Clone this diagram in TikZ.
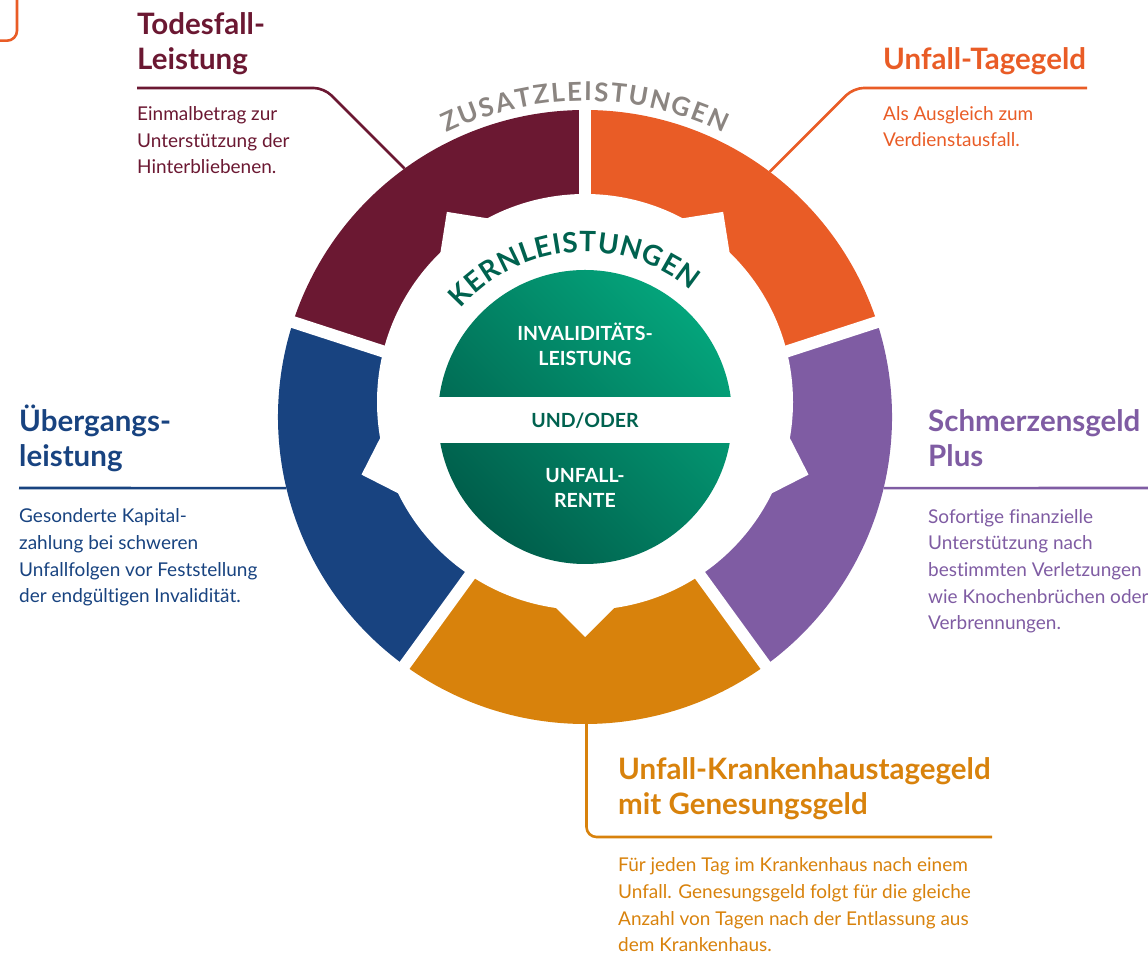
\documentclass[tikz,border=0pt]{standalone}
\usepackage{fontspec}
\setmainfont{Lato}[Ligatures=NoCommon]
\usepackage{tikz}
\usetikzlibrary{calc,decorations.text}
\definecolor{tod}{HTML}{6B1832}
\definecolor{tag}{HTML}{E95C26}
\definecolor{ueb}{HTML}{184380}
\definecolor{kh}{HTML}{D8820C}
\definecolor{sch}{HTML}{7F5CA3}
\definecolor{zus}{HTML}{8B8581}
\definecolor{kern}{HTML}{00624F}
\definecolor{grnlt}{HTML}{04A47B}
\definecolor{grndk}{HTML}{005E4B}
\newcommand\headfont{\fontsize{29.5}{35}\selectfont\bfseries}
\newcommand\bodyfont{\fontsize{19}{26.7}\selectfont}
\newcommand\corefont{\fontsize{19.5}{25}\selectfont\bfseries}
\newcommand\zusfont{\fontsize{26}{26}\selectfont\bfseries}
\newcommand\kernfont{\fontsize{28}{28}\selectfont\bfseries}
\tikzset{
  seg/.style={fill=#1},
  lead/.style={draw=#1, line width=2.6pt, rounded corners=10pt},
  ringgap/.style={draw=white, line width=12pt},
  head/.style={text=#1, font=\headfont, align=left, inner sep=0pt},
  body/.style={text=#1, font=\bodyfont, align=left, inner sep=0pt},
  core/.style={text=white, font=\corefont, align=center, inner sep=0pt},
}

\begin{document}
\begin{tikzpicture}[x=1pt,y=1pt]
  \useasboundingbox (0,0) rectangle (1148,955);
  \coordinate (C) at (585,538);
  \coordinate (S) at (585,553);

  % leaders
  \coordinate (tod-ring) at ($(C)+(126:307)$);
  \coordinate (tod-end) at (137,867);
  \coordinate (tag-ring) at ($(C)+(53:307)$);
  \coordinate (tag-end) at (1087,867);
  \coordinate (ueb-ring) at ($(C)+(193.4:307)$);
  \coordinate (ueb-end) at (19,467);
  \coordinate (sch-ring) at ($(C)+(-13.4:307)$);
  \coordinate (sch-end) at (1150,467);
  \coordinate (kh-ring) at ($(C)+(270:307)+(1.5,0)$);
  \coordinate (kh-end) at (992,118);
  \draw[lead=tod] (tod-ring) -- ++(-80.6,80.6) -- (tod-end);
  \draw[lead=tag] (tag-ring) -- ++(83.8,83.8) -- (tag-end);
  \draw[lead=ueb] (ueb-ring) -- (ueb-end);
  \draw[lead=sch] (sch-ring) -- (sch-end);
  \draw[lead=kh] (kh-ring) -- ++(0,-113) -- (kh-end);
  \draw[lead=tag] (17,960) -- (17,914.3) -- (-5,914.3);

  % ring
  \foreach \a/\col in {18/tag,90/tod,162/ueb,234/kh,306/sch}
    \fill[seg=\col] (C) -- ++(\a:307) arc[start angle=\a, end angle=\a+72, radius=307] -- cycle;
  \fill[white] (S) circle[radius=208];
  \foreach \a in {54,126,198,270,342}
    \fill[white, shift={(S)}, rotate=\a] (235,0) -- (185,50) -- (135,0) -- (185,-50) -- cycle;
  \foreach \a in {18,90,162,234,306}
    \draw[ringgap] (C) -- ++(\a:312);

  % core
  \shade[top color=grnlt, bottom color=grndk, shading angle=-45] (C) circle[radius=147];
  \fill[white] ($(C)+(-150,-26)$) rectangle ($(C)+(150,20)$);
  \node[core, anchor=base] (inv) at ($(C)+(0,51)$) {INVALIDITÄTS-\\LEISTUNG};
  \node[core, text=kern, anchor=base] (und) at ($(C)+(0,-11)$) {UND/ODER};
  \node[core, anchor=base] (unf) at ($(C)+(0,-91)$) {UNFALL-\\RENTE};

  \path[decorate, decoration={text along path, text align=fit to path, text color=zus,
    text={|\zusfont|ZUSATZLEISTUNGEN}}] ($(C)+(116:316)$) arc[start angle=116, end angle=64, radius=316];
  \path[decorate, decoration={text along path, text align=fit to path, text color=kern,
    text={|\kernfont|KERNLEISTUNGEN}}] ($(C)+(139:165)$) arc[start angle=139, end angle=50, radius=165];

  % texts
  \node[head=tod, anchor=base west] (tod-head) at ($(tod-end)+(0,18)$) {Todesfall-\\Leistung};
  \node[body=tod, anchor=base west] (tod-body) at ($(tod-end)+(0,-86)$) {Einmalbetrag zur\\Unterstützung der\\Hinterbliebenen.};
  \node[head=tag, anchor=base west] (tag-head) at (883,885) {Unfall-Tagegeld};
  \node[body=tag, anchor=base west] (tag-body) at (883,808) {Als Ausgleich zum\\Verdienstausfall.};
  \node[head=ueb, anchor=base west] (ueb-head) at ($(ueb-end)+(0,21)$) {Übergangs-\\leistung};
  \node[body=ueb, anchor=base west] (ueb-body) at ($(ueb-end)+(0,-115)$) {Gesonderte Kapital-\\zahlung bei schweren\\Unfallfolgen vor Feststellung\\der endgültigen Invalidität.};
  \node[head=sch, anchor=base west] (sch-head) at (928,488) {Schmerzensgeld\\Plus};
  \node[body=sch, anchor=base west] (sch-body) at (928,325) {Sofortige finanzielle\\Unterstützung nach\\bestimmten Verletzungen\\wie Knochenbrüchen oder\\Verbrennungen.};
  \node[head=kh, anchor=base west] (kh-head) at (618,140) {Unfall-Krankenhaustagegeld\\mit Genesungsgeld};
  \node[body=kh, anchor=base west] (kh-body) at (618,3) {Für jeden Tag im Krankenhaus nach einem\\Unfall. Genesungsgeld folgt für die gleiche\\Anzahl von Tagen nach der Entlassung aus\\dem Krankenhaus.};
\end{tikzpicture}
\end{document}
